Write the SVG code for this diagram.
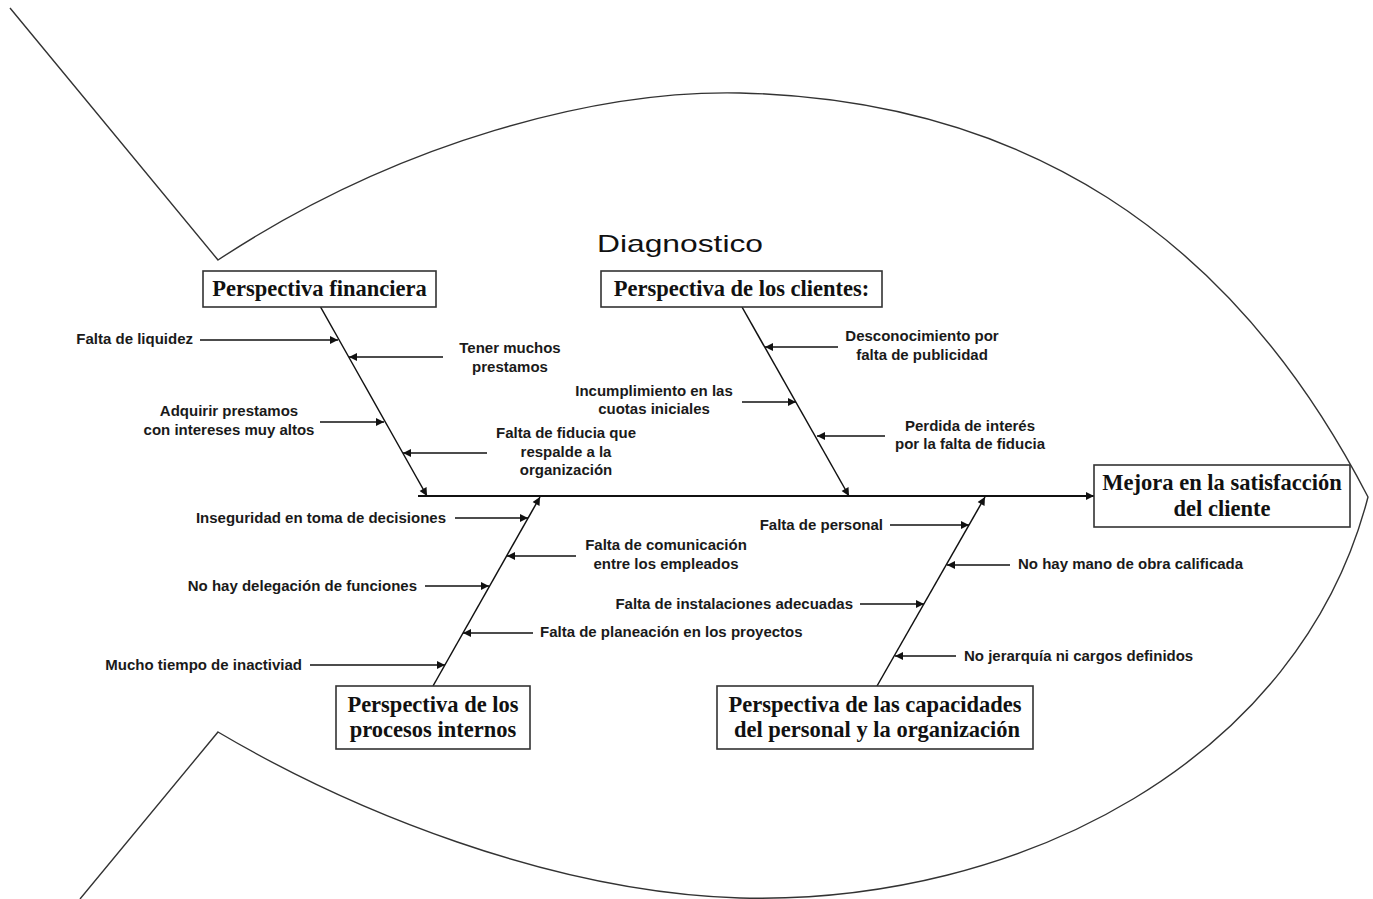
<svg xmlns="http://www.w3.org/2000/svg" width="1373" height="899" viewBox="0 0 1373 899">
<style>
.outline{fill:none;stroke:#333;stroke-width:1.4}
.box{fill:#fff;stroke:#333;stroke-width:1.6}
.ttl{font-family:"Liberation Serif","Times New Roman",serif;font-weight:bold;font-size:22.5px;fill:#111;text-anchor:middle}
.lbl{font-family:"Liberation Sans",Arial,sans-serif;font-weight:bold;font-size:15px;fill:#1a1a1a}
.mid{text-anchor:middle}
.end{text-anchor:end}
.con{fill:none;stroke:#111;stroke-width:1.5}
.spine{fill:none;stroke:#111;stroke-width:2}
</style>
<defs>
<marker id="ah" viewBox="0 0 10 10" refX="10" refY="5" markerWidth="11" markerHeight="8" markerUnits="userSpaceOnUse" orient="auto">
<path d="M0,0 L10,5 L0,10 z" fill="#111"/>
</marker>
</defs>
<rect width="1373" height="899" fill="#fff"/>
<g id="fish-outline">
<path class="outline" d="M10,8 L218,260 C400,140 600,90 740,93 C1020,100 1230,230 1368,497 C1300,760 1020,905 740,898 C550,892 350,810 218,732 L80,899"/>
</g>
<g id="title">
<text x="597" y="252" font-family="Liberation Sans,Arial,sans-serif" font-size="24" fill="#111" textLength="166" lengthAdjust="spacingAndGlyphs">Diagnostico</text>
</g>
<g id="connectors">
<line class="spine" x1="418" y1="496" x2="1094" y2="496" marker-end="url(#ah)"/>
<line class="con" x1="320" y1="306" x2="427" y2="496" marker-end="url(#ah)"/>
<line class="con" x1="742" y1="307" x2="849" y2="496" marker-end="url(#ah)"/>
<line class="con" x1="433" y1="686" x2="540" y2="497" marker-end="url(#ah)"/>
<line class="con" x1="877" y1="686" x2="985" y2="497" marker-end="url(#ah)"/>
<line class="con" x1="200" y1="340" x2="338" y2="340" marker-end="url(#ah)"/>
<line class="con" x1="443" y1="357" x2="349" y2="357" marker-end="url(#ah)"/>
<line class="con" x1="320" y1="422" x2="384" y2="422" marker-end="url(#ah)"/>
<line class="con" x1="487" y1="453" x2="403" y2="453" marker-end="url(#ah)"/>
<line class="con" x1="838" y1="347" x2="765" y2="347" marker-end="url(#ah)"/>
<line class="con" x1="742" y1="402" x2="796" y2="402" marker-end="url(#ah)"/>
<line class="con" x1="885" y1="436" x2="817" y2="436" marker-end="url(#ah)"/>
<line class="con" x1="455" y1="518" x2="528" y2="518" marker-end="url(#ah)"/>
<line class="con" x1="576" y1="556" x2="507" y2="556" marker-end="url(#ah)"/>
<line class="con" x1="425" y1="586" x2="489" y2="586" marker-end="url(#ah)"/>
<line class="con" x1="533" y1="633" x2="463" y2="633" marker-end="url(#ah)"/>
<line class="con" x1="310" y1="665" x2="445" y2="665" marker-end="url(#ah)"/>
<line class="con" x1="890" y1="525" x2="969" y2="525" marker-end="url(#ah)"/>
<line class="con" x1="1010" y1="565" x2="947" y2="565" marker-end="url(#ah)"/>
<line class="con" x1="860" y1="604" x2="924" y2="604" marker-end="url(#ah)"/>
<line class="con" x1="956" y1="656" x2="895" y2="656" marker-end="url(#ah)"/>
</g>
<g id="node-financiera">
<rect class="box" x="203" y="271" width="233" height="36"/>
<text class="ttl" x="319.5" y="296">Perspectiva financiera</text>
</g>
<g id="node-clientes">
<rect class="box" x="601" y="271" width="281" height="36"/>
<text class="ttl" x="741.5" y="296">Perspectiva de los clientes:</text>
</g>
<g id="node-procesos">
<rect class="box" x="336" y="686" width="194" height="63"/>
<text class="ttl" x="433" y="712">Perspectiva de los</text>
<text class="ttl" x="433" y="737">procesos internos</text>
</g>
<g id="node-capacidades">
<rect class="box" x="717" y="686" width="316" height="63"/>
<text class="ttl" x="875" y="712">Perspectiva de las capacidades</text>
<text class="ttl" x="877" y="737">del personal y la organización</text>
</g>
<g id="node-efecto">
<rect class="box" x="1094" y="465" width="256" height="62"/>
<text class="ttl" x="1222" y="490">Mejora en la satisfacción</text>
<text class="ttl" x="1222" y="516">del cliente</text>
</g>
<g id="cause-liquidez"><text class="lbl end" x="193" y="344">Falta de liquidez</text></g>
<g id="cause-prestamos"><text class="lbl mid" x="510" y="353">Tener muchos</text><text class="lbl mid" x="510" y="372">prestamos</text></g>
<g id="cause-intereses"><text class="lbl mid" x="229" y="416">Adquirir prestamos</text><text class="lbl mid" x="229" y="435">con intereses muy altos</text></g>
<g id="cause-fiducia"><text class="lbl mid" x="566" y="438">Falta de fiducia que</text><text class="lbl mid" x="566" y="457">respalde a la</text><text class="lbl mid" x="566" y="475">organización</text></g>
<g id="cause-publicidad"><text class="lbl mid" x="922" y="341">Desconocimiento por</text><text class="lbl mid" x="922" y="360">falta de publicidad</text></g>
<g id="cause-cuotas"><text class="lbl mid" x="654" y="396">Incumplimiento en las</text><text class="lbl mid" x="654" y="414">cuotas iniciales</text></g>
<g id="cause-interes"><text class="lbl mid" x="970" y="431">Perdida de interés</text><text class="lbl mid" x="970" y="449">por la falta de fiducia</text></g>
<g id="cause-inseguridad"><text class="lbl end" x="446" y="523">Inseguridad en toma de decisiones</text></g>
<g id="cause-comunicacion"><text class="lbl mid" x="666" y="550">Falta de comunicación</text><text class="lbl mid" x="666" y="569">entre los empleados</text></g>
<g id="cause-delegacion"><text class="lbl end" x="417" y="591">No hay delegación de funciones</text></g>
<g id="cause-planeacion"><text class="lbl" x="540" y="637">Falta de planeación en los proyectos</text></g>
<g id="cause-inactividad"><text class="lbl end" x="302" y="670">Mucho tiempo de inactiviad</text></g>
<g id="cause-personal"><text class="lbl end" x="883" y="530">Falta de personal</text></g>
<g id="cause-mano-obra"><text class="lbl" x="1018" y="569">No hay mano de obra calificada</text></g>
<g id="cause-instalaciones"><text class="lbl end" x="853" y="609">Falta de instalaciones adecuadas</text></g>
<g id="cause-jerarquia"><text class="lbl" x="964" y="661">No jerarquía ni cargos definidos</text></g>
</svg>
